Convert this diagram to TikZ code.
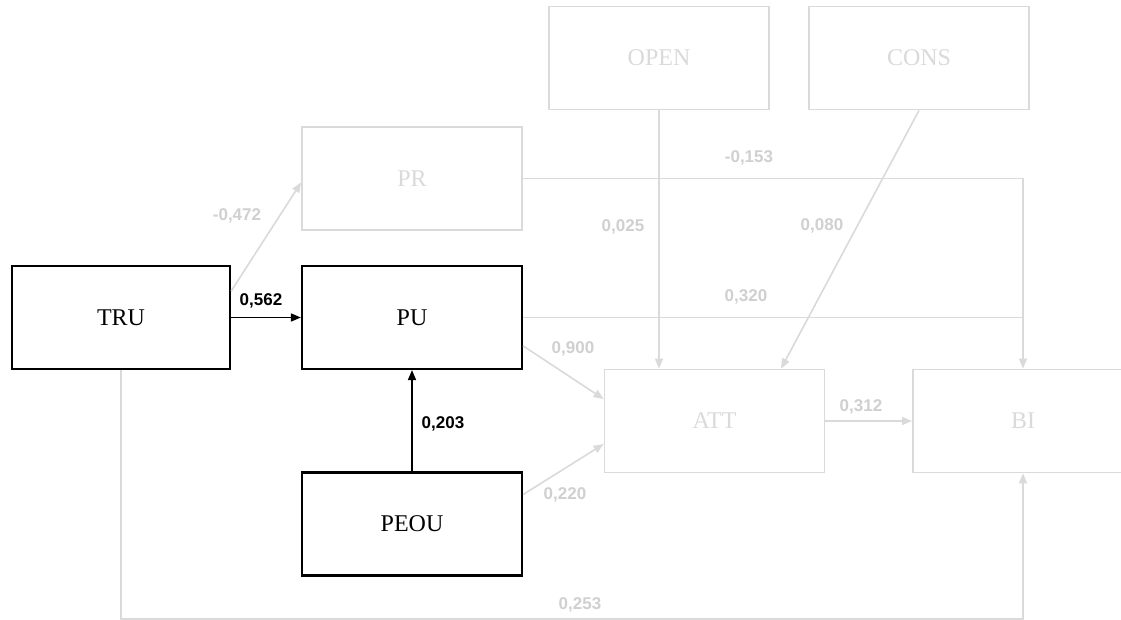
\documentclass[tikz,border=0pt]{standalone}
\usepackage{fontspec}
\setmainfont{Liberation Serif}
\newfontfamily\labelfont{Liberation Sans}
\usetikzlibrary{arrows.meta,calc}
\definecolor{faint}{RGB}{218,218,218}
\definecolor{fainttext}{RGB}{208,208,208}
\begin{document}
\begin{tikzpicture}[x=1pt,y=-1pt,
  box/.style={rectangle, minimum width=220pt, minimum height=103pt, inner sep=0pt,
              font=\fontsize{24}{28}\selectfont},
  boldbox/.style={box, draw=black, line width=2.2pt, text=black},
  palebox/.style={box, draw=faint, line width=1.8pt, text=faint},
  coef/.style={font=\labelfont\bfseries\fontsize{17}{20}\selectfont, inner sep=0pt},
  darkcoef/.style={coef, text=black},
  palecoef/.style={coef, text=fainttext},
  darkarrow/.style={draw=black, line width=1.6pt, -{Triangle[length=10pt,width=8pt]}},
  palearrow/.style={draw=faint, line width=1.6pt, -{Triangle[length=10pt,width=8pt]}},
  paleline/.style={draw=faint, line width=1.6pt}
]
\fill[white] (0,0) rectangle (1121,620);
\useasboundingbox (0,0) rectangle (1121,620);

% constructs
\node[palebox] (OPEN) at (659,58) {OPEN};
\node[palebox] (CONS) at (919,58) {CONS};
\node[palebox] (PR)   at (412,178.5) {PR};
\node[boldbox, minimum width=218pt] (TRU) at (121,317.5) {TRU};
\node[boldbox] (PU)   at (412,317.5) {PU};
\node[palebox] (ATT)  at (714.5,421) {ATT};
\node[palebox] (BI)   at (1023,421) {BI};
\node[boldbox] (PEOU) at (412,524) {PEOU};

\coordinate (floor) at (0,619);

% paths
\draw[palearrow] ($(TRU.north east)!0.25!(TRU.south east)$) -- ($(PR.west)+(0,4)$);
\draw[darkarrow] (TRU.east) -- (PU.west);
\draw[darkarrow] (PEOU.north) -- (PU.south);
\draw[palearrow] (PR.east) -| (BI.north);
\draw[paleline] (PU.east) -- (PU.east -| BI.north);
\draw[palearrow] (OPEN.south) -- (OPEN.south |- ATT.north);
\draw[palearrow] (CONS.south) -- ($(ATT.north west)!0.8!(ATT.north east)$);
\draw[palearrow] ($(PU.north east)!0.77!(PU.south east)$) -- ($(ATT.north west)!0.29!(ATT.south west)$);
\draw[palearrow] ($(PEOU.north east)!0.22!(PEOU.south east)$) -- ($(ATT.north west)!0.72!(ATT.south west)$);
\draw[palearrow] (ATT.east) -- (BI.west);
\draw[palearrow] (TRU.south) -- (TRU.south |- floor) -| (BI.south);

% path coefficients
\node[palecoef] (cTRUPR)   at (237,215.5) {-0,472};
\node[darkcoef] (cTRUPU)   at (261,300.5) {0,562};
\node[darkcoef] (cPEOUPU)  at (443,424) {0,203};
\node[palecoef] (cPRBI)    at (749,158) {-0,153};
\node[palecoef] (cOPENATT) at (623,226.5) {0,025};
\node[palecoef] (cCONSATT) at (822,226) {0,080};
\node[palecoef] (cPUBI)    at (746,297) {0,320};
\node[palecoef] (cPUATT)   at (573,349) {0,900};
\node[palecoef] (cPEOUATT) at (565,495) {0,220};
\node[palecoef] (cATTBI)   at (861,407) {0,312};
\node[palecoef] (cTRUBI)   at (580,605) {0,253};
\end{tikzpicture}
\end{document}
